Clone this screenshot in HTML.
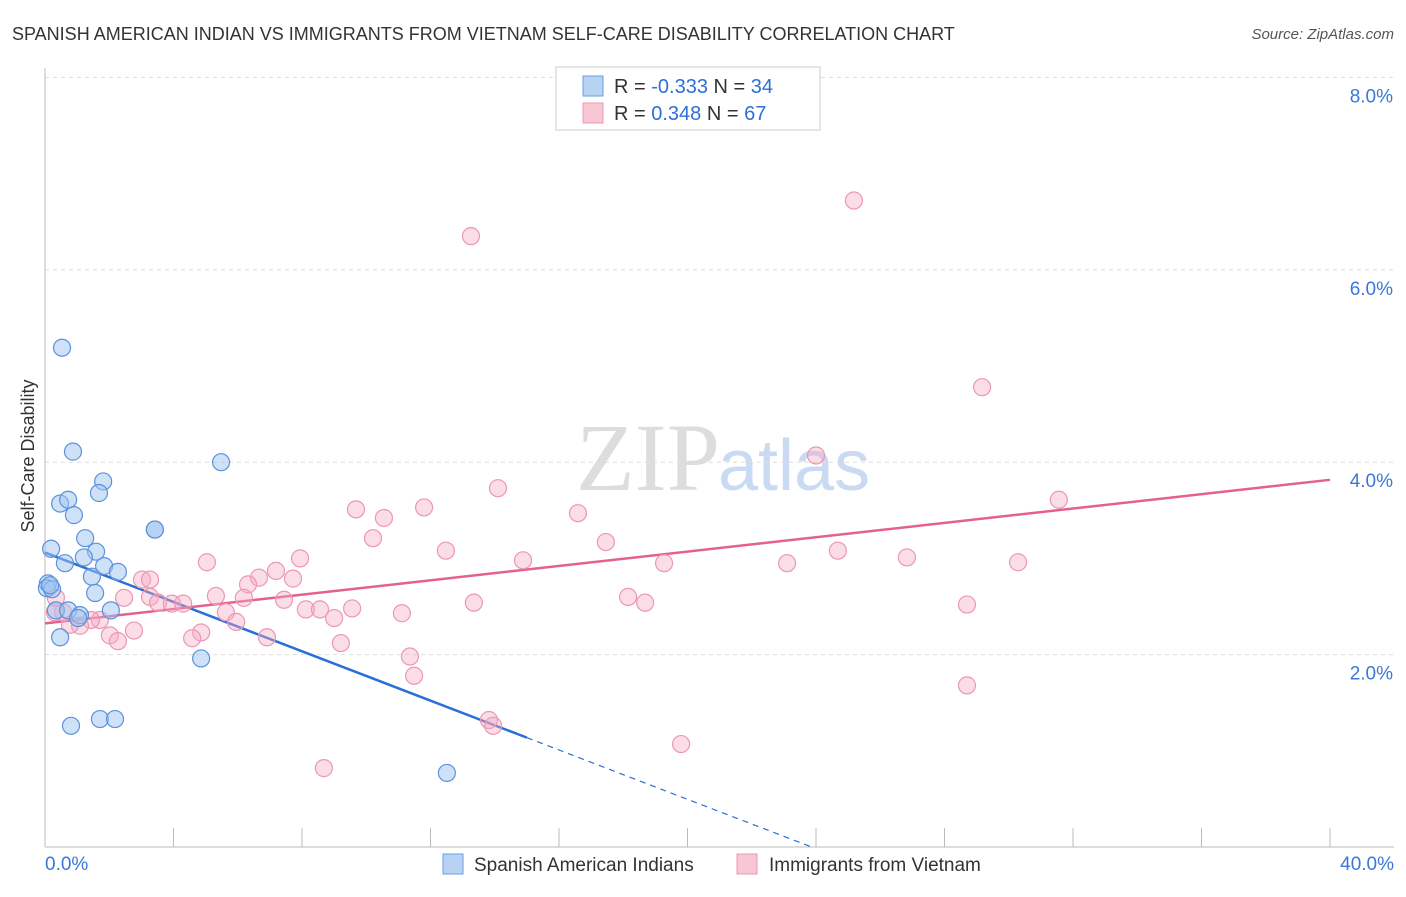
<!DOCTYPE html>
<html><head><meta charset="utf-8"><style>
body{margin:0;background:#fff;font-family:"Liberation Sans",sans-serif}
</style></head><body>
<svg id="chart" width="1406" height="892" xmlns="http://www.w3.org/2000/svg">
<text x="12" y="40" font-size="18" fill="#333">SPANISH AMERICAN INDIAN VS IMMIGRANTS FROM VIETNAM SELF-CARE DISABILITY CORRELATION CHART</text>
<text x="1394" y="39" font-size="15" fill="#555" text-anchor="end" font-style="italic">Source: ZipAtlas.com</text>
<text x="720" y="490" font-size="96" fill="#ddd" text-anchor="end" font-family="Liberation Serif">ZIP</text>
<text x="718" y="490" font-size="72" fill="#c9daf2">atlas</text>
<g id="grid"></g><g id="axes"></g><g id="lines"></g><g id="pts"></g>
<text transform="translate(34,456) rotate(-90)" font-size="18" fill="#333" text-anchor="middle">Self-Care Disability</text>
<g>
<rect x="556" y="67" width="264" height="63" fill="#fff" stroke="#ccc"/>
<rect x="583" y="76" width="20" height="20" fill="#b8d2f4" stroke="#6a9de0"/>
<text x="614" y="93" font-size="20" fill="#333">R = <tspan fill="#2f6fd6">-0.333</tspan>   N = <tspan fill="#2f6fd6">34</tspan></text>
<rect x="583" y="103" width="20" height="20" fill="#f9c6d4" stroke="#ea9ab4"/>
<text x="614" y="120" font-size="20" fill="#333">R =  <tspan fill="#2f6fd6">0.348</tspan>   N = <tspan fill="#2f6fd6">67</tspan></text>
</g>
<g>
<rect x="443" y="854" width="20" height="20" fill="#b8d2f4" stroke="#6a9de0"/>
<text x="474" y="871" font-size="19" fill="#333">Spanish American Indians</text>
<rect x="737" y="854" width="20" height="20" fill="#f9c6d4" stroke="#ea9ab4"/>
<text x="769" y="871" font-size="19" fill="#333">Immigrants from Vietnam</text>
</g>
</svg>
<script>
const blueX=[0.53,0.87,1.81,1.68,0.47,0.72,0.90,5.48,3.42,3.42,1.25,0.19,1.59,1.21,0.62,1.84,2.27,1.46,0.09,0.06,0.22,1.56,2.05,0.34,0.72,1.09,0.47,4.86,1.71,2.18,0.81,12.51,0.16,1.03];
const blueY=[5.19,4.11,3.80,3.68,3.57,3.61,3.45,4.00,3.30,3.30,3.21,3.10,3.07,3.01,2.95,2.92,2.86,2.81,2.74,2.69,2.68,2.64,2.46,2.46,2.46,2.41,2.18,1.96,1.33,1.33,1.26,0.77,2.72,2.38];
const pinkX=[25.18,13.26,29.17,24.00,14.10,31.56,11.80,9.68,10.55,16.59,10.21,17.46,12.48,24.68,26.83,7.94,14.88,19.27,23.10,30.29,5.04,7.19,3.02,6.66,7.72,6.32,2.46,5.32,6.19,7.44,3.27,18.15,3.52,3.95,4.30,18.68,13.35,28.70,8.12,8.56,9.56,11.11,5.63,9.00,5.95,1.71,1.43,0.56,0.31,1.09,0.78,2.77,2.02,4.86,4.58,6.91,2.27,9.21,11.36,11.49,28.70,13.82,13.95,19.80,8.68,0.34,3.27];
const pinkY=[6.72,6.35,4.78,4.07,3.73,3.61,3.53,3.51,3.42,3.47,3.21,3.17,3.08,3.08,3.01,3.00,2.98,2.95,2.95,2.96,2.96,2.87,2.78,2.80,2.79,2.73,2.59,2.61,2.59,2.57,2.60,2.60,2.54,2.53,2.53,2.54,2.54,2.52,2.47,2.47,2.48,2.43,2.44,2.38,2.34,2.36,2.36,2.44,2.44,2.30,2.31,2.25,2.20,2.23,2.17,2.18,2.14,2.12,1.98,1.78,1.68,1.32,1.26,1.07,0.82,2.59,2.78];
const yTicks=[2,4,6,8];
const yTickLabels=["2.0%","4.0%","6.0%","8.0%"];
const xTickLabels=["0.0%","40.0%"];
const NS="http://www.w3.org/2000/svg";
const sx=v=>45+v*32.125, sy=v=>847-v*96.2;
function mk(tag,attrs,parent){const e=document.createElementNS(NS,tag);for(const k in attrs)e.setAttribute(k,attrs[k]);document.getElementById(parent).appendChild(e);return e;}
yTicks.forEach((t,i)=>{
 const l=mk('line',{x1:45,x2:1394,y1:sy(t),y2:sy(t),stroke:'#ddd','stroke-dasharray':'4,4'},'grid');
 
 
 const tx=mk('text',{x:1393,y:sy(t)+25,'font-size':19,fill:'#3a78d8','text-anchor':'end'},'grid');
 tx.textContent=yTickLabels[i];
 
 
});
let ax=mk('line',{x1:45,x2:45,y1:68,y2:847,stroke:'#bbb'},'axes');


ax=mk('line',{x1:45,x2:1394,y1:847,y2:847,stroke:'#bbb'},'axes');


for(let v=0;v<=40;v+=4){const t=mk('line',{x1:sx(v),x2:sx(v),y1:828,y2:847,stroke:'#bbb'},'axes');
 
 }
[[0,'start',45],[1,'end',1394]].forEach(([i,a,x])=>{const t=mk('text',{x:x,y:870,'font-size':19,fill:'#3a78d8','text-anchor':a},'axes');t.textContent=xTickLabels[i];
 
 });
function fit(X,Y){const n=X.length;let mx=0,my=0;for(let i=0;i<n;i++){mx+=X[i];my+=Y[i];}mx/=n;my/=n;let a=0,b=0;for(let i=0;i<n;i++){a+=(X[i]-mx)*(Y[i]-my);b+=(X[i]-mx)**2;}const s=a/b;return [my-s*mx,s];}
const [bi,bs]=fit(blueX,blueY);
let ln=mk('line',{x1:sx(0),y1:sy(bi),x2:sx(15),y2:sy(bi+bs*15),stroke:'#2a6fd6','stroke-width':2.5},'lines');


const xz=bs<0?Math.min(40,-bi/bs):40;
ln=mk('line',{x1:sx(15),y1:sy(bi+bs*15),x2:sx(xz),y2:sy(bi+bs*xz),stroke:'#2a6fd6','stroke-width':1.2,'stroke-dasharray':'6,5'},'lines');


const [pi,ps]=fit(pinkX,pinkY);
ln=mk('line',{x1:sx(0),y1:sy(pi),x2:sx(40),y2:sy(pi+ps*40),stroke:'#e4618d','stroke-width':2.5},'lines');


pinkX.forEach((x,i)=>{const c=mk('circle',{cx:sx(x),cy:sy(pinkY[i]),r:8.5,fill:'rgba(246,170,195,0.4)',stroke:'#ec97b3','stroke-width':1.2},'pts');
 
 });
blueX.forEach((x,i)=>{const c=mk('circle',{cx:sx(x),cy:sy(blueY[i]),r:8.5,fill:'rgba(160,195,240,0.5)',stroke:'#5a92dd','stroke-width':1.2},'pts');
 
 });
</script>
</body></html>
